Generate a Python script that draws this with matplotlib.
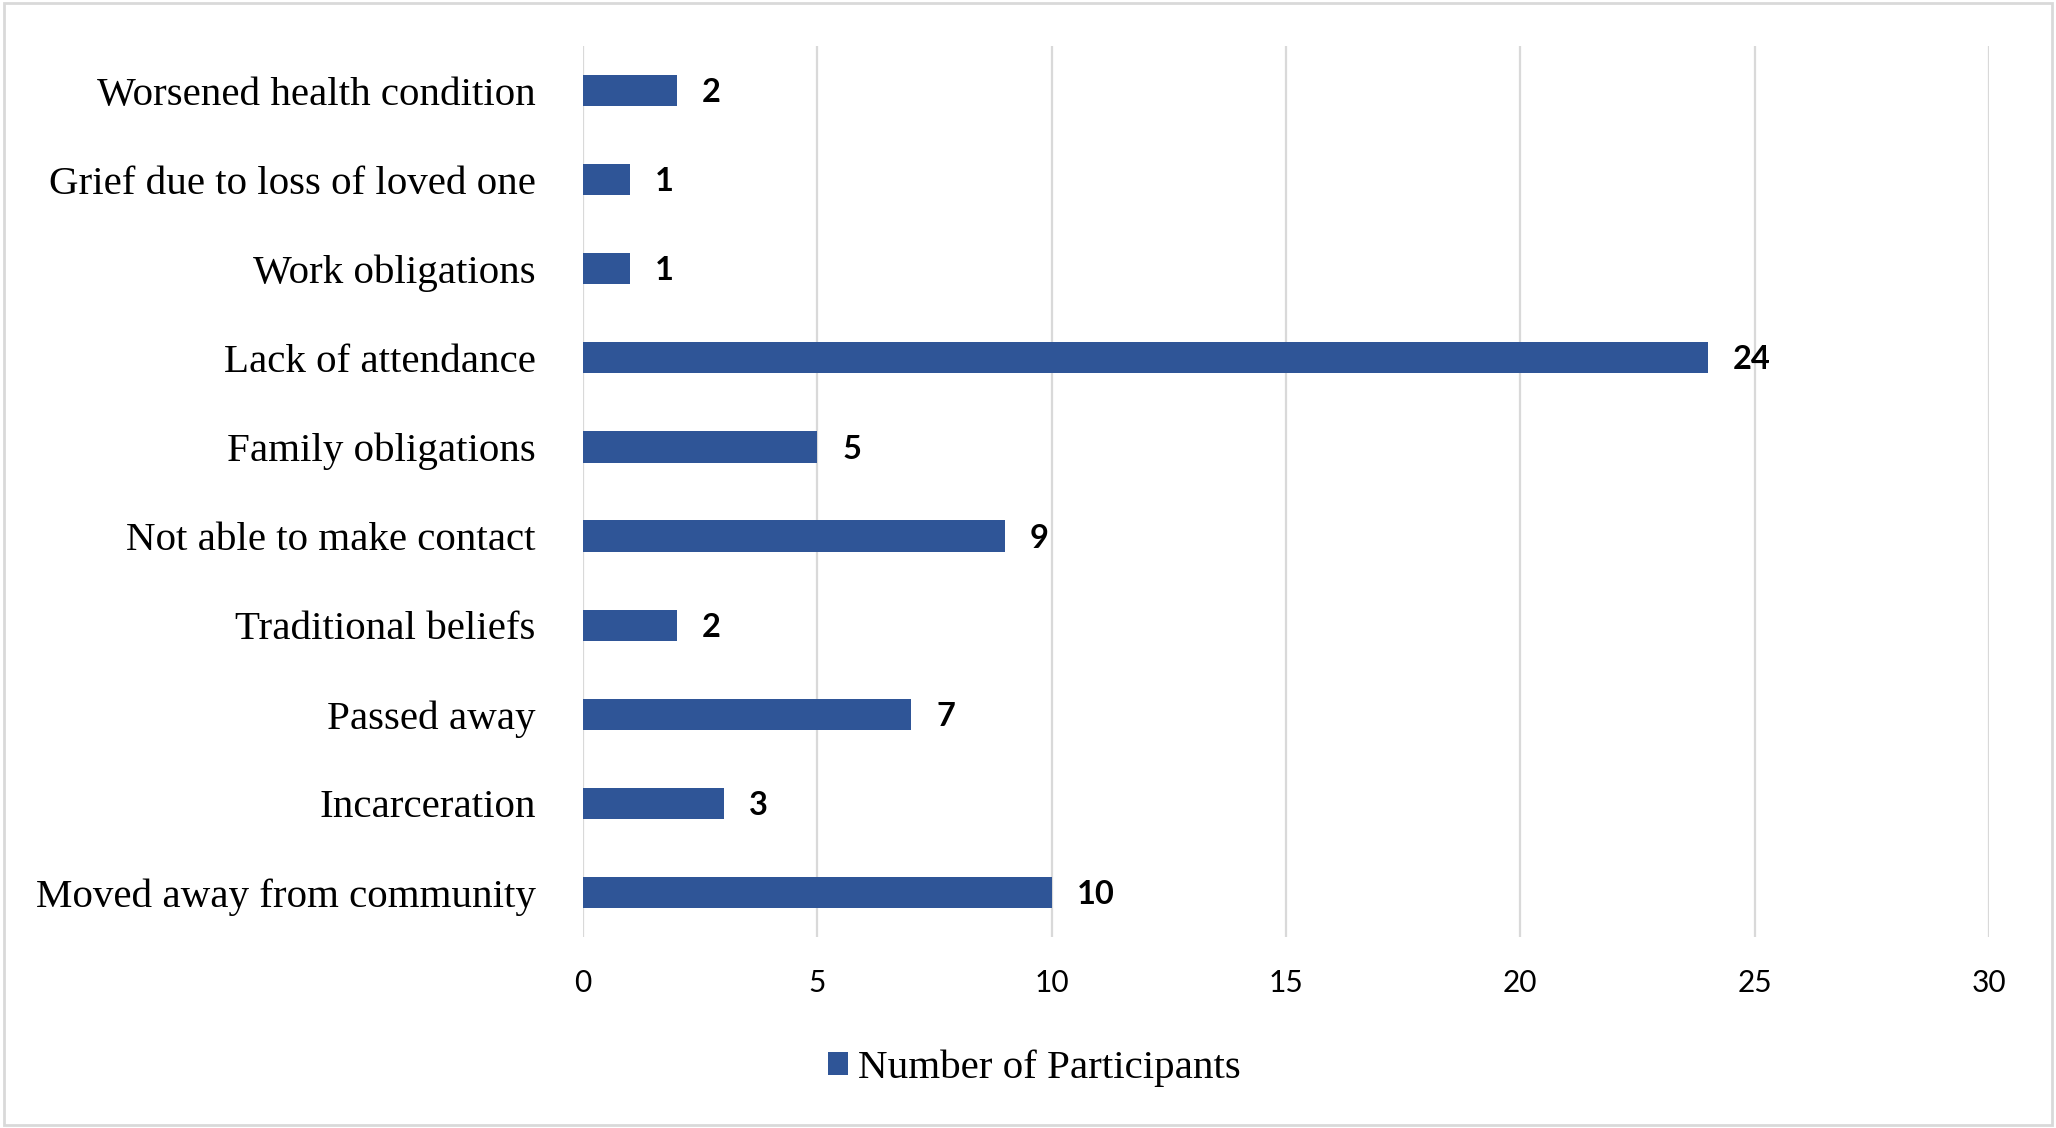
import matplotlib.pyplot as plt
from matplotlib.patches import Rectangle

# --------------------------------
# DATA
# --------------------------------
categories = [
    "Moved away from community",
    "Incarceration",
    "Passed away",
    "Traditional beliefs",
    "Not able to make contact",
    "Family obligations",
    "Lack of attendance",
    "Work obligations",
    "Grief due to loss of loved one",
    "Worsened health condition",
]
participants = [10, 3, 7, 2, 9, 5, 24, 1, 1, 2]
x_ticks = [0, 5, 10, 15, 20, 25, 30]
series_name = "Number of Participants"

BAR_COLOR = "#2F5597"
GRID_COLOR = "#D9D9D9"
SERIF = "Liberation Serif"
SANS = "Lato"

# --------------------------------
# PLOT
# --------------------------------
fig = plt.figure(figsize=(20.56, 11.28), dpi=100)
ax = fig.add_axes([0.2836, 0.1693, 0.6838, 0.7899])

bars = ax.barh(range(len(categories)), participants, height=0.35,
               color=BAR_COLOR, label=series_name, zorder=3)

# value labels next to each bar
for i, v in enumerate(participants):
    ax.annotate(str(v), (v, i), xytext=(18, -1.5), textcoords="offset points",
                ha="left", va="center", fontsize=23.5, fontweight="bold",
                family=SANS, color="black")

ax.set_xlim(0, 30)
ax.set_ylim(-0.5, len(categories) - 0.5)
ax.set_xticks(x_ticks)
ax.set_yticks(range(len(categories)))
ax.set_yticklabels(categories, family=SERIF, fontsize=29.5)
for lbl in ax.get_xticklabels():
    lbl.set_family(SANS)
    lbl.set_fontsize(21.5)
ax.tick_params(axis="x", length=0, pad=23, labelcolor="black")
ax.tick_params(axis="y", length=0, pad=34)

ax.grid(axis="x", color=GRID_COLOR, linewidth=1.6, zorder=0)
for s in ax.spines.values():
    s.set_visible(False)

fig.legend(handles=[bars], labels=[series_name], loc="center",
           bbox_to_anchor=(0.503, 0.053), frameon=False,
           prop={"family": SERIF, "size": 29.5},
           handlelength=0.48, handleheight=0.48, handletextpad=0.25)

# light frame around the whole chart
fig.patches.append(Rectangle((0.002, 0.003), 0.996, 0.994, transform=fig.transFigure,
                             fill=False, edgecolor=GRID_COLOR, linewidth=2))

fig.savefig("out.png", dpi=100)
